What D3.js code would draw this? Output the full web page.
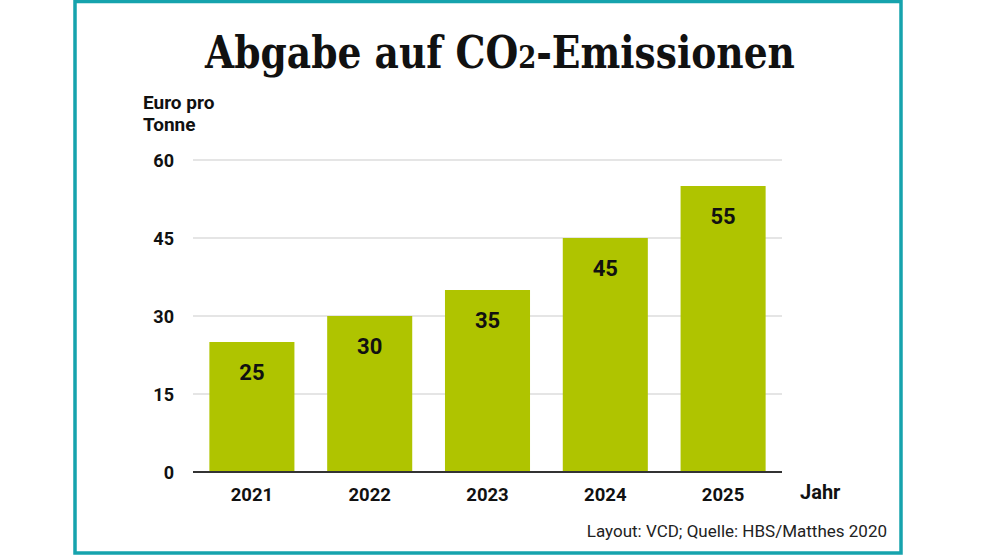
<!DOCTYPE html>
<html>
<head>
<meta charset="utf-8">
<script src="https://cdn.jsdelivr.net/npm/d3@7"></script>
<style>
  body { margin: 0; background: #fff; }
  svg { display: block; }
</style>
</head>
<body>
<div id="chart"></div>
<script>
const years = ["2021", "2022", "2023", "2024", "2025"];
const prices = [25, 30, 35, 45, 55];
const yTicks = [0, 15, 30, 45, 60];

const width = 1000;
const height = 556;

const svg = d3.select("#chart").append("svg")
  .attr("width", width)
  .attr("height", height);

// teal frame
svg.append("rect")
  .attr("x", 75).attr("y", 1.5)
  .attr("width", 826).attr("height", 551.5)
  .attr("fill", "none")
  .attr("stroke", "#16a3ad")
  .attr("stroke-width", 3.5);

// title - squeezed horizontally to the reference width
const titleG = svg.append("g");
const title = titleG.append("text")
  .attr("x", 0).attr("y", 0)
  .attr("text-anchor", "middle")
  .attr("font-family", "'DejaVu Serif', serif")
  .attr("font-weight", "bold")
  .attr("font-size", 45)
  .attr("fill", "#111");
title.append("tspan").text("Abgabe auf CO");
title.append("tspan").attr("font-size", 31).text("2");
title.append("tspan").text("-Emissionen");
const tLen = title.node().getComputedTextLength() || 590;
titleG.attr("transform", `translate(500,68) scale(${590 / tLen},1)`);

const x = d3.scaleBand()
  .domain(years)
  .range([193, 782])
  .paddingInner(0.278)
  .paddingOuter(0.139);

const y = d3.scaleLinear()
  .domain([0, 60])
  .range([472, 160]);

// gridlines
svg.append("g")
  .selectAll("line")
  .data(yTicks.filter(d => d > 0))
  .join("line")
  .attr("x1", 193).attr("x2", 782)
  .attr("y1", d => y(d)).attr("y2", d => y(d))
  .attr("stroke", "#dcdcdc")
  .attr("stroke-width", 1.5);

// y tick labels
svg.append("g")
  .selectAll("text")
  .data(yTicks)
  .join("text")
  .attr("x", 174)
  .attr("y", d => y(d) + 6.5)
  .attr("text-anchor", "end")
  .attr("font-family", "Roboto, sans-serif")
  .attr("font-weight", "bold")
  .attr("font-size", 18)
  .attr("fill", "#111")
  .text(d => d);

// y axis title (two lines)
svg.append("g")
  .selectAll("text")
  .data(["Euro pro", "Tonne"])
  .join("text")
  .attr("x", 143)
  .attr("y", (d, i) => 109 + i * 22)
  .attr("font-family", "Roboto, sans-serif")
  .attr("font-weight", "bold")
  .attr("font-size", 19)
  .attr("fill", "#111")
  .text(d => d);

// bars
svg.append("g")
  .selectAll("rect")
  .data(years)
  .join("rect")
  .attr("x", d => x(d))
  .attr("y", (d, i) => y(prices[i]))
  .attr("width", x.bandwidth())
  .attr("height", (d, i) => y(0) - y(prices[i]))
  .attr("fill", "#afc400");

// value labels
svg.append("g")
  .selectAll("text")
  .data(years)
  .join("text")
  .attr("x", d => x(d) + x.bandwidth() / 2)
  .attr("y", (d, i) => y(prices[i]) + 38)
  .attr("text-anchor", "middle")
  .attr("font-family", "Roboto, sans-serif")
  .attr("font-weight", "bold")
  .attr("font-size", 22)
  .attr("fill", "#111")
  .text((d, i) => prices[i]);

// baseline
svg.append("line")
  .attr("x1", 193).attr("x2", 782)
  .attr("y1", y(0)).attr("y2", y(0))
  .attr("stroke", "#333")
  .attr("stroke-width", 2);

// x labels
svg.append("g")
  .selectAll("text")
  .data(years)
  .join("text")
  .attr("x", d => x(d) + x.bandwidth() / 2)
  .attr("y", 501)
  .attr("text-anchor", "middle")
  .attr("font-family", "Roboto, sans-serif")
  .attr("font-weight", "bold")
  .attr("font-size", 18.5)
  .attr("fill", "#111")
  .text(d => d);

svg.append("text")
  .attr("x", 800).attr("y", 499)
  .attr("font-family", "Roboto, sans-serif")
  .attr("font-weight", "bold")
  .attr("font-size", 20)
  .attr("fill", "#111")
  .text("Jahr");

// source
svg.append("text")
  .attr("x", 887).attr("y", 537)
  .attr("text-anchor", "end")
  .attr("font-family", "Roboto, sans-serif")
  .attr("font-size", 17)
  .attr("fill", "#222")
  .text("Layout: VCD; Quelle: HBS/Matthes 2020");
</script>
</body>
</html>
